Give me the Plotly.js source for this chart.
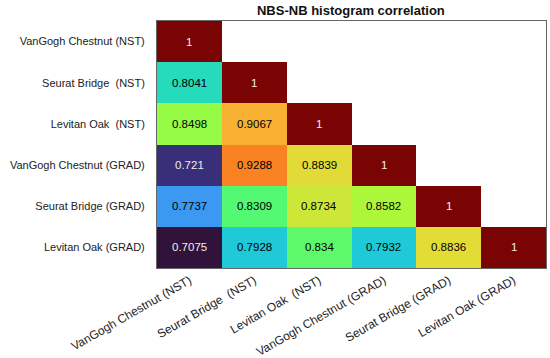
<!DOCTYPE html>
<html>
<head>
<meta charset="utf-8">
<script src="https://cdn.plot.ly/plotly-3.0.1.min.js"></script>
<style>html,body{margin:0;padding:0;background:#fff;}#chart{width:550px;height:358px;}</style>
</head>
<body>
<div id="chart"></div>
<script>
// Labels (rows top-to-bottom, columns left-to-right)
var labels = ['VanGogh Chestnut (NST)', 'Seurat Bridge  (NST)', 'Levitan Oak  (NST)',
              'VanGogh Chestnut (GRAD)', 'Seurat Bridge (GRAD)', 'Levitan Oak (GRAD)'];

// Lower-triangular correlation values, one array per row
var row1 = [1];
var row2 = [0.8041, 1];
var row3 = [0.8498, 0.9067, 1];
var row4 = [0.721, 0.9288, 0.8839, 1];
var row5 = [0.7737, 0.8309, 0.8734, 0.8582, 1];
var row6 = [0.7075, 0.7928, 0.834, 0.7932, 0.8836, 1];
var rows = [row1, row2, row3, row4, row5, row6];

var titleText = 'NBS-NB histogram correlation';

// Turbo colormap key colours
var turboKeys = [
  [0.0, [48, 18, 59]],
  [0.1, [68, 81, 191]],
  [0.2, [70, 134, 251]],
  [0.3, [27, 207, 212]],
  [0.4, [60, 247, 130]],
  [0.5, [164, 252, 60]],
  [0.6, [225, 221, 55]],
  [0.7, [254, 165, 49]],
  [0.8, [245, 105, 24]],
  [0.9, [202, 42, 4]],
  [1.0, [122, 4, 3]]
];
function turbo(t) {
  for (var k = 1; k < turboKeys.length; k++) {
    if (t <= turboKeys[k][0]) {
      var a = turboKeys[k-1], b = turboKeys[k];
      var f = (t - a[0]) / (b[0] - a[0]);
      return [0,1,2].map(function(i){ return Math.round(a[1][i] + f*(b[1][i]-a[1][i])); });
    }
  }
  return turboKeys[turboKeys.length-1][1];
}
var colorscale = turboKeys.map(function(k){ return [k[0], 'rgb(' + k[1].join(',') + ')']; });

var n = labels.length;
var zmin = Infinity, zmax = -Infinity;
var z = [];
for (var r = 0; r < n; r++) {
  var zr = [];
  for (var c = 0; c < n; c++) {
    var v = c < rows[r].length ? rows[r][c] : null;
    zr.push(v);
    if (v !== null) { zmin = Math.min(zmin, v); zmax = Math.max(zmax, v); }
  }
  z.push(zr);
}

var annotations = [];
for (var r2 = 0; r2 < n; r2++) {
  for (var c2 = 0; c2 < rows[r2].length; c2++) {
    var val = rows[r2][c2];
    var tt = (val - zmin) / (zmax - zmin);
    var rgb = turbo(tt);
    var lum = (0.299*rgb[0] + 0.587*rgb[1] + 0.114*rgb[2]) / 255;
    annotations.push({
      x: labels[c2], y: labels[r2], xref: 'x', yref: 'y',
      text: String(val), showarrow: false,
      font: {family: 'Liberation Sans, Arial, sans-serif', size: 11.5, color: lum < 0.4 ? '#f4eaea' : '#000000'}
    });
  }
}

var ticktext = labels.map(function(s){ return s.replace(/  /g, ' \u00a0'); });

var data = [{
  type: 'heatmap',
  x: labels, y: labels, z: z,
  zmin: zmin, zmax: zmax,
  colorscale: colorscale,
  showscale: false,
  hoverongaps: false
}];

var axisCommon = {
  showline: true, mirror: true, linecolor: '#666', linewidth: 1,
  showgrid: false, zeroline: false, ticks: '',
  tickfont: {family: 'Liberation Sans, Arial, sans-serif', size: 11, color: '#222'},
  tickvals: labels, ticktext: ticktext
};

var layout = {
  width: 550, height: 358,
  margin: {l: 157, r: 4, t: 21, b: 90},
  paper_bgcolor: '#fff', plot_bgcolor: '#fff',
  title: {text: '<b>' + titleText + '</b>', x: 0.638, xanchor: 'center', y: 0.972, yanchor: 'middle',
          font: {family: 'Liberation Sans, Arial, sans-serif', size: 13, color: '#111'}},
  xaxis: Object.assign({}, axisCommon, {tickangle: -30, ticklabelstandoff: 0,
          tickfont: {family: 'Liberation Sans, Arial, sans-serif', size: 12, color: '#222'}}),
  yaxis: Object.assign({}, axisCommon, {autorange: 'reversed', ticklabelstandoff: 9}),
  annotations: annotations,
  showlegend: false
};

Plotly.newPlot('chart', data, layout, {displayModeBar: false, staticPlot: true});
</script>
</body>
</html>
